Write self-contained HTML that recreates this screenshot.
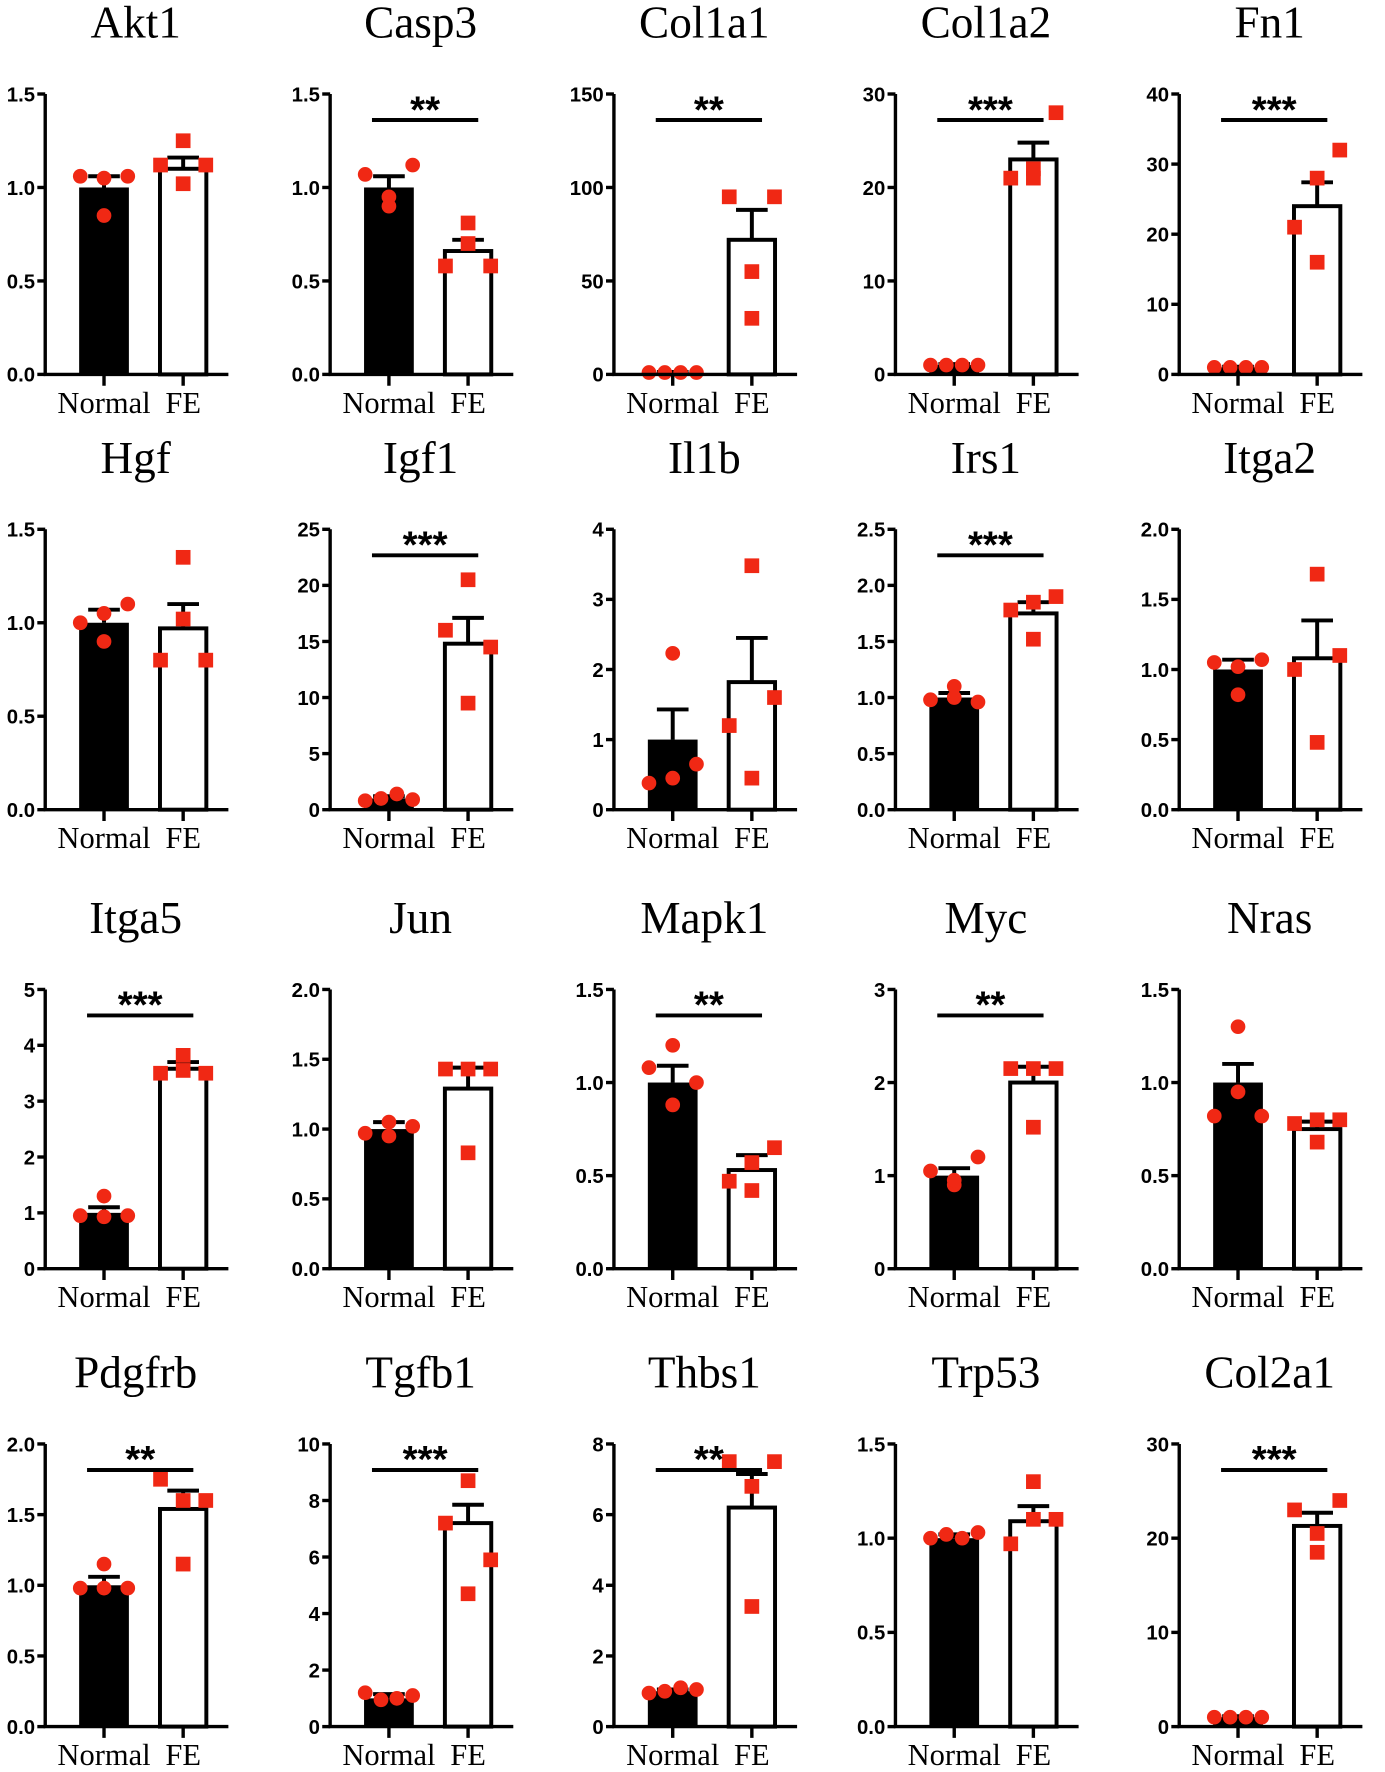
<!DOCTYPE html>
<html><head><meta charset="utf-8"><style>
html,body{margin:0;padding:0;background:#fff;}
svg{display:block;}
</style></head><body>
<svg id="fig" width="1385" height="1772" viewBox="0 0 1225 1567" xmlns="http://www.w3.org/2000/svg"></svg>
<script>
const genes=["Akt1","Casp3","Col1a1","Col1a2","Fn1","Hgf","Igf1","Il1b","Irs1","Itga2","Itga5","Jun","Mapk1","Myc","Nras","Pdgfrb","Tgfb1","Thbs1","Trp53","Col2a1"];
const yMax=[1.5,1.5,150,30,40,1.5,25,4,2.5,2.0,5,2.0,1.5,3,1.5,2.0,10,8,1.5,30];
const yStep=[0.5,0.5,50,10,10,0.5,5,1,0.5,0.5,1,0.5,0.5,1,0.5,0.5,2,2,0.5,10];
const normalMean=[1,1,1,1,1,1,1,1,1,1,1,1,1,1,1,1,1,1,1,1];
const normalSem=[0.06,0.06,0.3,0.1,0.1,0.07,0.2,0.43,0.04,0.07,0.1,0.05,0.09,0.08,0.1,0.06,0.15,0.05,0.02,0.1];
const normalPts=[[1.06,0.85,1.05,1.06],[1.07,0.9,0.95,1.12],[1,1,1,1],[1,1,1,1],[1,1,1,1],[1.0,0.9,1.05,1.1],[0.8,1.0,1.4,0.9],[0.38,2.23,0.45,0.65],[0.98,1.0,1.1,0.96],[1.05,0.82,1.02,1.07],[0.95,0.93,1.3,0.95],[0.97,0.95,1.05,1.02],[1.08,0.88,1.2,1.0],[1.05,0.9,0.95,1.2],[0.82,0.95,1.3,0.82],[0.98,0.98,1.15,0.98],[1.2,0.95,1.0,1.1],[0.95,1.0,1.1,1.05],[1.0,1.02,1.0,1.03],[1,1,1,1]];
const feMean=[1.1,0.66,72,23,24,0.97,14.8,1.82,1.75,1.08,3.58,1.29,0.53,2.0,0.75,1.54,7.2,6.2,1.09,21.3];
const feSem=[0.06,0.06,16,1.8,3.4,0.13,2.3,0.63,0.1,0.27,0.12,0.15,0.08,0.17,0.04,0.13,0.65,0.95,0.08,1.4];
const fePts=[[1.12,1.25,1.12,1.02],[0.58,0.81,0.58,0.7],[95,55,95,30],[21,22,28,21],[21,28,32,16],[0.8,1.35,0.8,1.02],[16,20.5,14.5,9.5],[1.2,3.48,1.6,0.45],[1.78,1.52,1.9,1.85],[1.0,1.68,1.1,0.48],[3.5,3.82,3.5,3.55],[1.43,1.43,1.43,0.83],[0.47,0.57,0.65,0.42],[2.15,2.15,2.15,1.52],[0.78,0.8,0.8,0.68],[1.75,1.6,1.6,1.15],[7.2,8.7,5.9,4.7],[7.5,6.8,7.5,3.4],[0.97,1.3,1.1,1.1],[23,20.5,24,18.5]];
const sig=["","**","**","***","***","","***","","***","","***","","**","**","","**","***","**","","***"];

const colX=[40,292,543,792,1043];
const rowBottom=[331,716,1122,1527];
const rowTop=[83,468,875,1277];
const NS="http://www.w3.org/2000/svg";
const svg=document.getElementById('fig');
function mk(tag,attrs,parent){const e=document.createElementNS(NS,tag);for(const k in attrs)e.setAttribute(k,attrs[k]);(parent||svg).appendChild(e);return e;}
const jitN=[-21,0,0,21];
const jitN2=[-21,-7,7,21];
const jit=[-20,0,20,0];
genes.forEach((g,i)=>{
  const r=Math.floor(i/5),c=i%5;
  const ax=colX[c],yb=rowBottom[r],yt=rowTop[r];
  const y=v=>yb-(v/yMax[i])*(yb-yt);
  const grp=mk('g',{});
  
  
  const t=mk('text',{x:ax+80,y:yt-50,'text-anchor':'middle','font-family':'Liberation Serif, serif','font-size':40},grp);
  t.textContent=g;
  
  
  const nx=ax+30,fx=ax+100,bw=44;
  const b1=mk('rect',{x:nx,y:y(normalMean[i]),width:bw,height:yb-y(normalMean[i]),fill:'#000'},grp);
  
  
  const b2=mk('rect',{x:fx+1.5,y:y(feMean[i]),width:bw-3,height:yb-y(feMean[i]),fill:'#fff',stroke:'#000','stroke-width':3.5},grp);
  
  
  [[nx+bw/2,normalMean[i],normalSem[i]],[fx+bw/2,feMean[i],feSem[i]]].forEach(([cx,m,s])=>{
    const e=mk('path',{d:`M${cx},${y(m)}V${y(m+s)}M${cx-14},${y(m+s)}H${cx+14}`,stroke:'#000','stroke-width':3.5,fill:'none'},grp);
    
    
  });
  const pts=normalPts[i];
  const closeAll=Math.max(...pts)-Math.min(...pts)<0.03*yMax[i];
  pts.forEach((v,k)=>{
    const off=closeAll?jitN2[k]:jitN[k];
    const p=mk('circle',{cx:nx+bw/2+off,cy:y(v),r:6.5,fill:'#f02814'},grp);
    
    
  });
  fePts[i].forEach((v,k)=>{
    const p=mk('rect',{x:fx+bw/2+jit[k]-6.5,y:y(v)-6.5,width:13,height:13,fill:'#f02814'},grp);
    
    
  });
  const a=mk('path',{d:`M${ax},${yt}V${yb}H${ax+162}M${nx+bw/2},${yb}V${yb+10}M${fx+bw/2},${yb}V${yb+10}`,stroke:'#000','stroke-width':3,fill:'none'},grp);
  
  
  const nt=Math.round(yMax[i]/yStep[i]);
  for(let k=0;k<=nt;k++){
    const v=k*yStep[i];
    mk('line',{x1:ax-7,x2:ax,y1:y(v),y2:y(v),stroke:'#000','stroke-width':3},grp);
    const tl=mk('text',{x:ax-9,y:y(v)+6.5,'text-anchor':'end','font-family':'Liberation Sans, sans-serif','font-weight':'bold','font-size':18},grp);
    tl.textContent=yStep[i]<1?v.toFixed(1):String(v);
    
    
  }
  const l1=mk('text',{x:nx+bw/2,y:yb+34,'text-anchor':'middle','font-family':'Liberation Serif, serif','font-size':27},grp);
  l1.textContent='Normal';
  
  
  const l2=mk('text',{x:fx+bw/2,y:yb+34,'text-anchor':'middle','font-family':'Liberation Serif, serif','font-size':27},grp);
  l2.textContent='FE';
  
  
  if(sig[i]){
    const ly=yt+23;
    const sl=mk('line',{x1:ax+37,x2:ax+131,y1:ly,y2:ly,stroke:'#000','stroke-width':3.5},grp);
    
    
    const st=mk('text',{x:ax+84,y:ly+2,'text-anchor':'middle','font-family':'Liberation Sans, sans-serif','font-weight':'bold','font-size':34},grp);
    st.textContent=sig[i];
    
    
  }
});
</script>
</body></html>
